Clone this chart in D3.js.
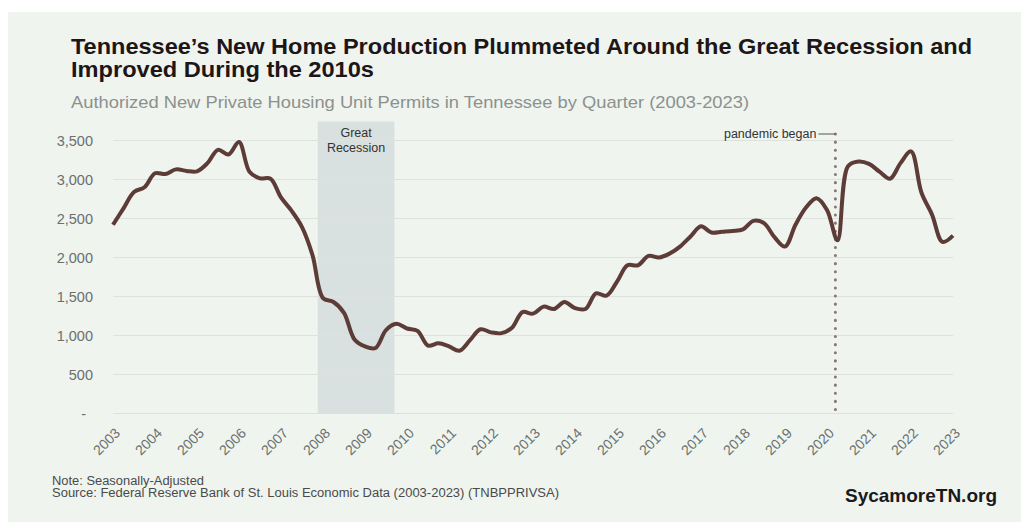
<!DOCTYPE html>
<html>
<head>
<meta charset="utf-8">
<script src="https://cdn.jsdelivr.net/npm/d3@7"></script>
<style>
  body { margin: 0; background: #ffffff; }
  svg { display: block; font-family: "Liberation Sans", Arial, sans-serif; }
</style>
</head>
<body>
<svg id="chart" width="1021" height="522"></svg>
<script>
// quarterly permits, 2003 Q1 .. 2023 Q1
const quarters = d3.range(81).map(i => `${2003 + Math.floor(i / 4)} Q${(i % 4) + 1}`);
const permits = [
  2420, 2630, 2840, 2900, 3080, 3070, 3130, 3110,
  3105, 3210, 3380, 3320, 3480, 3100, 3015, 3010,
  2770, 2600, 2390, 2030, 1480, 1430, 1290, 950,
  860, 840, 1070, 1150, 1090, 1060, 870, 900,
  860, 805, 940, 1080, 1040, 1030, 1100, 1300,
  1280, 1370, 1340, 1430, 1350, 1340, 1540, 1510,
  1690, 1900, 1900, 2020, 2000, 2050, 2140, 2270,
  2400, 2320, 2330, 2340, 2360, 2470, 2440, 2260,
  2140, 2420, 2640, 2760, 2610, 2220, 3170, 3230,
  3200, 3100, 3010, 3210, 3360, 2830, 2550, 2200,
  2280
];
const yearLabels = d3.range(2003, 2024).map(String);
const yTicks = [0, 500, 1000, 1500, 2000, 2500, 3000, 3500];
// shaded period and event marker, in quarter index units
const recession = { start: 19.5, end: 26.8, label: ["Great", "Recession"] };
const pandemic = { at: 68.8, label: "pandemic began" };

const svg = d3.select('#chart');

// panel background
svg.append('rect')
  .attr('x', 8).attr('y', 12)
  .attr('width', 1013).attr('height', 510)
  .attr('fill', '#eff4ef');

const x = d3.scaleLinear().domain([0, 80]).range([113, 953]);
const y = d3.scaleLinear().domain([0, 3500]).range([413.5, 140.5]);

// titles
const title = ["Tennessee’s New Home Production Plummeted Around the Great Recession and",
               "Improved During the 2010s"];
svg.append('text')
  .attr('x', 71).attr('y', 53.5)
  .attr('font-size', 22).attr('font-weight', 'bold').attr('fill', '#1e1616')
  .attr('textLength', 901).attr('lengthAdjust', 'spacingAndGlyphs')
  .text(title[0]);
svg.append('text')
  .attr('x', 71).attr('y', 77)
  .attr('font-size', 22).attr('font-weight', 'bold').attr('fill', '#1e1616')
  .attr('textLength', 303).attr('lengthAdjust', 'spacingAndGlyphs')
  .text(title[1]);
svg.append('text')
  .attr('x', 71).attr('y', 108)
  .attr('font-size', 17).attr('fill', '#8c918e')
  .attr('textLength', 678).attr('lengthAdjust', 'spacingAndGlyphs')
  .text('Authorized New Private Housing Unit Permits in Tennessee by Quarter (2003-2023)');

// recession band
svg.append('rect')
  .attr('x', x(recession.start)).attr('y', 121.5)
  .attr('width', x(recession.end) - x(recession.start))
  .attr('height', y(0) - 121.5)
  .attr('fill', '#d8e0e0');
svg.append('g').selectAll('text')
  .data(recession.label)
  .join('text')
    .attr('x', (x(recession.start) + x(recession.end)) / 2)
    .attr('y', (d, i) => 137 + i * 15)
    .attr('text-anchor', 'middle')
    .attr('font-size', 12.5).attr('fill', '#333')
    .text(d => d);

// grid
svg.append('g').selectAll('line')
  .data(yTicks)
  .join('line')
    .attr('x1', 113).attr('x2', 953)
    .attr('y1', d => y(d)).attr('y2', d => y(d))
    .attr('stroke', '#dde2de').attr('stroke-width', 1.2);

// y labels
svg.append('g').selectAll('text')
  .data(yTicks)
  .join('text')
    .attr('x', d => d === 0 ? 86 : 93)
    .attr('y', d => y(d) + 5)
    .attr('text-anchor', 'end')
    .attr('font-size', 14.5).attr('fill', '#6b6f6d')
    .text(d => d === 0 ? '-' : d3.format(',')(d));

// x labels
svg.append('g').selectAll('text')
  .data(yearLabels)
  .join('text')
    .attr('transform', (d, i) => `translate(${x(i * 4) + 8},${434}) rotate(-45)`)
    .attr('text-anchor', 'end')
    .attr('font-size', 14).attr('fill', '#6b6f6d')
    .text(d => d);

// pandemic marker
svg.append('line')
  .attr('x1', x(pandemic.at)).attr('x2', x(pandemic.at))
  .attr('y1', 134).attr('y2', y(0))
  .attr('stroke', '#8a7474').attr('stroke-width', 3)
  .attr('stroke-linecap', 'round')
  .attr('stroke-dasharray', '0.1,8');
svg.append('line')
  .attr('x1', x(pandemic.at) - 17).attr('x2', x(pandemic.at))
  .attr('y1', 134).attr('y2', 134)
  .attr('stroke', '#555').attr('stroke-width', 1);
svg.append('text')
  .attr('x', x(pandemic.at) - 19).attr('y', 138)
  .attr('text-anchor', 'end')
  .attr('font-size', 12.5).attr('fill', '#333')
  .text(pandemic.label);

// line
const line = d3.line()
  .x((d, i) => x(i))
  .y(d => y(d))
  .curve(d3.curveCatmullRom.alpha(0.5));
svg.append('path')
  .datum(permits)
  .attr('fill', 'none')
  .attr('stroke', '#5d3c38')
  .attr('stroke-width', 4)
  .attr('stroke-linejoin', 'round')
  .attr('d', line);

// footer
svg.append('text')
  .attr('x', 52).attr('y', 485)
  .attr('font-size', 12.5).attr('fill', '#4a4a4a')
  .attr('textLength', 152).attr('lengthAdjust', 'spacingAndGlyphs')
  .text('Note: Seasonally-Adjusted');
svg.append('text')
  .attr('x', 52).attr('y', 497)
  .attr('font-size', 12.5).attr('fill', '#4a4a4a')
  .attr('textLength', 507).attr('lengthAdjust', 'spacingAndGlyphs')
  .text('Source: Federal Reserve Bank of St. Louis Economic Data (2003-2023) (TNBPPRIVSA)');
svg.append('text')
  .attr('x', 997).attr('y', 502)
  .attr('text-anchor', 'end')
  .attr('font-size', 19).attr('font-weight', 'bold').attr('fill', '#1a1a1a')
  .text('SycamoreTN.org');
</script>
</body>
</html>
